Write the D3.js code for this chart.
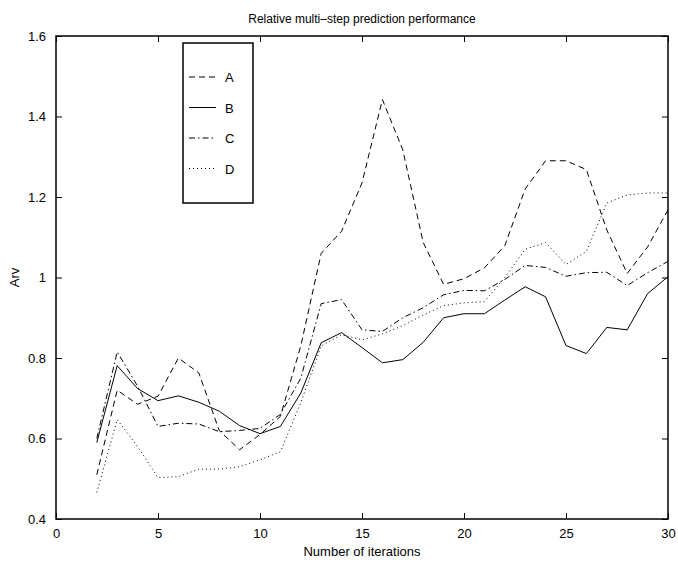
<!DOCTYPE html>
<html>
<head>
<meta charset="utf-8">
<script src="https://cdn.jsdelivr.net/npm/d3@7"></script>
<style>
  body { margin: 0; background: #fff; }
  svg { display: block; font-family: "Liberation Sans", Arial, sans-serif; }
</style>
</head>
<body>
<div id="chart"></div>
<script>
// iterations 2..30
const iterations = d3.range(2, 31);
const seriesA = [0.51, 0.72, 0.685, 0.705, 0.80, 0.763, 0.62, 0.572, 0.61, 0.655, 0.83, 1.06, 1.115, 1.235, 1.442, 1.317, 1.087, 0.983, 0.997, 1.024, 1.079, 1.22, 1.29, 1.29, 1.268, 1.118, 1.01, 1.076, 1.168];
const seriesB = [0.59, 0.781, 0.724, 0.694, 0.706, 0.69, 0.668, 0.632, 0.612, 0.63, 0.713, 0.838, 0.863, 0.826, 0.788, 0.796, 0.839, 0.9, 0.91, 0.91, 0.944, 0.977, 0.952, 0.831, 0.811, 0.876, 0.87, 0.96, 1.002];
const seriesC = [0.6, 0.815, 0.73, 0.63, 0.638, 0.636, 0.617, 0.62, 0.625, 0.66, 0.75, 0.935, 0.945, 0.87, 0.866, 0.9, 0.925, 0.957, 0.968, 0.967, 0.995, 1.03, 1.025, 1.003, 1.012, 1.013, 0.98, 1.012, 1.04];
const seriesD = [0.466, 0.647, 0.58, 0.503, 0.505, 0.524, 0.524, 0.53, 0.547, 0.567, 0.689, 0.83, 0.858, 0.845, 0.86, 0.88, 0.907, 0.93, 0.937, 0.94, 1.0, 1.07, 1.087, 1.032, 1.065, 1.185, 1.205, 1.21, 1.21];
const seriesNames = ["A", "B", "C", "D"];
const xTicks = [0, 5, 10, 15, 20, 25, 30];
const yTicks = [0.4, 0.6, 0.8, 1, 1.2, 1.4, 1.6];

const width = 678, height = 564;
const margin = { left: 56, right: 10, top: 36, bottom: 45 };

const svg = d3.select("#chart").append("svg")
    .attr("width", width)
    .attr("height", height);

const x = d3.scaleLinear().domain([0, 30]).range([margin.left, width - margin.right]);
const y = d3.scaleLinear().domain([0.4, 1.6]).range([height - margin.bottom, margin.top]);

const dashes = { A: "6,4", B: null, C: "6,3,1.5,3", D: "1,3" };
const allSeries = [seriesA, seriesB, seriesC, seriesD];

const line = d3.line()
    .x((d, i) => x(iterations[i]))
    .y(d => y(d));

allSeries.forEach((vals, k) => {
    svg.append("path")
        .datum(vals)
        .attr("d", line)
        .attr("fill", "none")
        .attr("stroke", "#000")
        .attr("stroke-width", 1)
        .attr("stroke-dasharray", dashes[seriesNames[k]]);
});

// axes - matlab style box with ticks inside
const tickLen = 6;
const fmtY = d => d === 1 ? "1" : d3.format(".1f")(d);

svg.append("g")
    .attr("transform", `translate(0,${y(0.4)})`)
    .call(d3.axisBottom(x).tickValues(xTicks).tickSizeInner(-tickLen).tickSizeOuter(0).tickPadding(10))
    .call(g => g.select(".domain").remove());
svg.append("g")
    .attr("transform", `translate(0,${y(1.6)})`)
    .call(d3.axisTop(x).tickValues(xTicks).tickSizeInner(-tickLen).tickSizeOuter(0).tickFormat(""))
    .call(g => g.select(".domain").remove());
svg.append("g")
    .attr("transform", `translate(${x(0)},0)`)
    .call(d3.axisLeft(y).tickValues(yTicks).tickFormat(fmtY).tickSizeInner(-tickLen).tickSizeOuter(0).tickPadding(10))
    .call(g => g.select(".domain").remove());
svg.append("g")
    .attr("transform", `translate(${x(30)},0)`)
    .call(d3.axisRight(y).tickValues(yTicks).tickSizeInner(-tickLen).tickSizeOuter(0).tickFormat(""))
    .call(g => g.select(".domain").remove());

svg.selectAll(".tick line").attr("stroke", "#000").attr("stroke-width", 1);
svg.selectAll(".tick text")
    .attr("fill", "#000")
    .style("font-size", "13px")
    .style("font-family", "Liberation Sans, Arial, sans-serif");

svg.append("rect")
    .attr("x", x(0)).attr("y", y(1.6))
    .attr("width", x(30) - x(0)).attr("height", y(0.4) - y(1.6))
    .attr("fill", "none").attr("stroke", "#000").attr("stroke-width", 1.5);

// title and labels
svg.append("text")
    .attr("x", (x(0) + x(30)) / 2).attr("y", 23)
    .attr("text-anchor", "middle")
    .style("font-size", "12px")
    .text("Relative multi\u2013step prediction performance");

svg.append("text")
    .attr("x", (x(0) + x(30)) / 2).attr("y", 556)
    .attr("text-anchor", "middle")
    .style("font-size", "13px")
    .text("Number of iterations");

svg.append("text")
    .attr("transform", `translate(19,${(y(0.4) + y(1.6)) / 2}) rotate(-90)`)
    .attr("text-anchor", "middle")
    .style("font-size", "13px")
    .text("Arv");

// legend
const legend = svg.append("g").attr("transform", "translate(183,43)");
legend.append("rect")
    .attr("width", 70).attr("height", 160)
    .attr("fill", "#fff").attr("stroke", "#000").attr("stroke-width", 1.5);
seriesNames.forEach((name, i) => {
    const ly = 34 + i * 30.5;
    legend.append("line")
        .attr("x1", 6).attr("x2", 33).attr("y1", ly).attr("y2", ly)
        .attr("stroke", "#000").attr("stroke-width", 1)
        .attr("stroke-dasharray", dashes[name]);
    legend.append("text")
        .attr("x", 42).attr("y", ly + 5)
        .style("font-size", "13px")
        .text(name);
});
</script>
</body>
</html>
